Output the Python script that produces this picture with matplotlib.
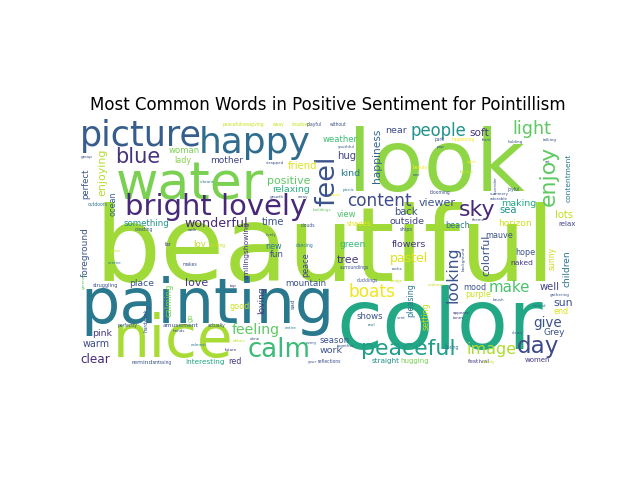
import matplotlib
matplotlib.use("Agg")
import matplotlib.pyplot as plt

# --- words and their weight in the cloud (rendered size, px on a 496x248 canvas) ---
words = [
    "beautiful", "painting", "color", "look", "water", "nice", "picture", "happy",
    "bright lovely", "feel", "calm", "day", "peaceful", "sky", "enjoy", "blue",
    "light", "boats", "content", "people", "image", "looking", "make", "feeling",
    "give", "wonderful", "pastel", "clear", "positive", "viewer", "love", "tree",
    "sun", "enjoying", "colorful", "happiness", "soft", "friend", "hug", "time",
    "back", "sea", "lots", "well", "near", "kind", "making", "outside", "work",
    "flowers", "warm", "pink", "relaxing", "place", "mother", "horizon", "green",
    "Grey", "foreground", "loving", "children", "something", "mountain", "woman",
    "weather", "view", "Joy", "fun", "season", "shows", "perfect", "calming",
    "lady", "beach", "mauve", "new", "good", "red", "end", "purple", "mood", "hope",
    "ocean", "peace", "pleasing", "setting", "sunny", "naked", "smilingshowing",
    "contentment", "interesting", "straight", "shades", "relax", "hugging", "women",
    "go", "festival", "reminds", "amusement", "sad",
    "peacefulness", "giving", "away", "shadows", "playful", "without", "strapped",
    "vibrant", "growth", "array", "outdoors", "buildings", "creating", "walk",
    "youthful", "picnic", "word", "clouds", "lively", "grass", "serene", "far",
    "smiling", "makes", "dancing", "struggling", "top", "life", "hardwork",
    "perfectly", "actually", "hands", "calmest", "debris", "future", "done",
    "entire", "every", "together", "missing", "your", "reflections", "ducklings",
    "bridge", "surroundings", "rocks", "sadness", "background", "brush", "appears",
    "tones", "Spring", "clean", "attend", "gathering", "family", "real", "sent",
    "park", "pop", "happening", "front", "holding", "talking", "right", "figures",
    "beauty", "one", "lavender", "art", "blooming", "summery", "adorable", "joyful",
    "theme", "ships", "greenery", "group",
]
weights = [
    104, 62, 84, 85, 52, 58, 35, 36,
    29, 27, 26, 23, 22, 22, 22, 21,
    17.5, 17, 17, 16.5, 16, 15.5, 15, 14,
    13.5, 12.6, 12.5, 12, 11, 11, 11, 11,
    11, 11, 11, 10.6, 10.5, 10, 10, 10,
    10, 10, 10, 10, 9.5, 9.5, 9.5, 9.5, 9.5,
    9.5, 9.6, 9.4, 9.4, 9.3, 9, 9, 9,
    9, 9, 9, 9, 8.7, 8.6, 8.5,
    8.5, 8.5, 8.5, 8.5, 8.5, 8.5, 8.5, 8.4,
    8, 8, 8, 8, 8, 8, 8, 8, 8, 8,
    8, 8, 8, 8, 7.7, 7.5, 7.5,
    7.5, 7.4, 7.3, 7, 7, 7, 7,
    7, 6, 6, 6, 6,
    4.5, 4.5, 4.5, 4.5, 4.5, 4.5, 4,
    4, 4, 4, 4.5, 4, 4.5, 4,
    4, 4, 4, 4.5, 4, 4, 4, 5,
    4.5, 4.5, 4.5, 5, 4, 4, 5,
    4.5, 4.5, 4, 4, 4, 4, 4,
    4, 4, 4, 4.5, 4, 4.5, 4.5,
    4, 4.5, 4, 4, 4, 4, 4,
    4, 4.5, 4, 4, 4, 4, 4, 4,
    4.5, 4, 4.5, 4, 4, 4, 4, 4,
    4.5, 4, 4, 4, 4.5, 4, 4, 4.5,
    4, 5, 4, 4,
]

# --- layout: baseline start of each word on the canvas, rotation, colour ---
xs = [
    14, 0.5, 256, 268, 36, 33, 0, 119,
    45, 254, 168, 437, 281, 379, 475, 35,
    432, 269, 267, 331, 386, 378, 409, 152,
    453, 104, 310, 0, 187, 339, 105, 257,
    473, 25, 409, 300, 389, 208, 257, 182,
    314, 419, 475, 460, 305, 260, 421, 309, 240,
    312, 3, 12, 192, 49, 130, 418, 260,
    463, 8, 184, 490, 44, 205, 89,
    243, 257, 113, 190, 240, 277, 8, 91,
    94, 365, 405, 185, 150, 148, 473, 385, 383, 435,
    35, 228, 333, 349, 475, 430, 169,
    491, 105, 292, 267, 478, 320, 445,
    113, 388, 51, 83, 215,
    143, 171, 193, 212, 227, 250, 186,
    120, 190, 218, 8, 233, 55, 108,
    258, 263, 251, 221, 186, 30, 28, 85,
    130, 103, 216, 13, 150, 66, 68,
    38, 128, 93, 111, 153, 145, 170,
    205, 226, 257, 75, 228, 238, 277,
    310, 260, 312, 348, 385, 413, 373,
    373, 365, 432, 453, 470, 403, 288, 317,
    355, 357, 372, 402, 428, 463, 387, 380,
    333, 333, 417, 465, 350, 410, 410, 427,
    392, 320, 5, 1,
]
ys = [
    162, 205, 231, 73, 81, 239, 28, 35,
    97, 88, 239, 235, 237, 98, 88, 45,
    16, 179, 88, 18, 236, 185, 174, 216,
    209, 109, 144, 245, 66, 88, 168, 145,
    188, 78, 158, 65, 18, 51, 41, 107,
    97, 95, 100, 172, 15, 58, 88, 106, 235,
    129, 229, 218, 74, 168, 45, 108, 129,
    217, 159, 196, 169, 108, 168, 35,
    24, 99, 129, 139, 225, 201, 81, 199,
    45, 110, 120, 131, 191, 246, 196, 179, 172, 137,
    98, 159, 199, 212, 152, 147, 161,
    84, 246, 245, 108, 108, 245, 244,
    204, 245, 246, 209, 191,
    8, 8, 8, 8, 8, 8, 46,
    65, 80, 80, 88, 93, 113, 113,
    30, 73, 78, 109, 118, 134, 146, 128,
    129, 148, 129, 169, 169, 191, 214,
    209, 209, 214, 228, 224, 233, 222,
    211, 226, 229, 246, 245, 245, 164,
    164, 151, 152, 168, 153, 183, 196,
    201, 231, 216, 189, 178, 245, 208, 201,
    23, 30, 23, 23, 25, 23, 45, 55,
    51, 58, 76, 45, 76, 77, 82, 73,
    103, 113, 171, 40,
]
vertical = {
    "feel", "enjoy", "looking", "enjoying", "colorful", "happiness", "foreground",
    "loving", "children", "perfect", "calming", "ocean", "peace", "pleasing",
    "setting", "sunny", "smilingshowing", "contentment", "go", "sad", "hardwork",
    "background", "lavender", "greenery",
}
colors = [
    "#a0da39", "#2a788e", "#22a884", "#8ed645", "#7ad151", "#a8db34", "#365d8d", "#2f6c8e",
    "#482878", "#3b528b", "#3bbb75", "#3e4a89", "#1f9e89", "#482878", "#5ec962", "#46337e",
    "#5ec962", "#f1e51d", "#3e4c8a", "#21918c", "#addc30", "#3b528b", "#4ac16d", "#5ec962",
    "#3b528b", "#482878", "#dfe318", "#482878", "#5ec962", "#3b528b", "#443983", "#443983",
    "#3b528b", "#b5de2b", "#3b528b", "#33638d", "#46337e", "#dde318", "#414487", "#3b528b",
    "#3b528b", "#21918c", "#c2df23", "#414487", "#3e4a89", "#2a788e", "#22a884", "#414487", "#3b528b",
    "#443983", "#3e4a89", "#443983", "#29af7f", "#3b528b", "#414487", "#d0e11c", "#35b779",
    "#3b528b", "#3b528b", "#443983", "#2c728e", "#21918c", "#3b528b", "#7ad151",
    "#3dbc74", "#4ac16d", "#bddf26", "#3b528b", "#3b528b", "#3b528b", "#3b528b", "#7ad151",
    "#86d549", "#2a788e", "#3b528b", "#2a788e", "#c8e020", "#443983", "#dde318", "#c8e020", "#3b528b", "#3b528b",
    "#365c8d", "#414487", "#2a788e", "#c8e020", "#c8e020", "#443983", "#443983",
    "#2a788e", "#21a585", "#21918c", "#e2e418", "#414487", "#7ad151", "#443983",
    "#7ad151", "#443983", "#3b528b", "#3b528b", "#3b528b",
    "#c8e020", "#c8e020", "#c8e020", "#c8e020", "#3b528b", "#3b528b", "#3b528b",
    "#2a788e", "#3b528b", "#3b528b", "#2a788e", "#5ec962", "#3b528b", "#3b528b",
    "#3b528b", "#2a788e", "#fde725", "#3b528b", "#3b528b", "#c8e020", "#2a788e", "#443983",
    "#c8e020", "#3b528b", "#2a788e", "#3b528b", "#443983", "#3b528b", "#3b528b",
    "#3b528b", "#3b528b", "#3b528b", "#2a788e", "#c8e020", "#443983", "#3b528b",
    "#2a788e", "#3b528b", "#3b528b", "#3b528b", "#3b528b", "#3b528b", "#3b528b",
    "#c8e020", "#3b528b", "#3b528b", "#c8e020", "#3b528b", "#3b528b", "#443983",
    "#443983", "#2a788e", "#3b528b", "#2a788e", "#3b528b", "#c8e020", "#2a788e", "#3b528b",
    "#3b528b", "#3b528b", "#fde725", "#3b528b", "#3b528b", "#3b528b", "#fde725", "#c8e020",
    "#fde725", "#3b528b", "#3b528b", "#3b528b", "#3b528b", "#3b528b", "#3b528b", "#3b528b",
    "#3b528b", "#3b528b", "#5ec962", "#3b528b",
]

CANVAS_W, CANVAS_H = 496, 248
PX_TO_PT = 72 / 100  # figure dpi is 100

fig = plt.figure(figsize=(6.4, 4.8), dpi=100)
ax = fig.add_subplot(111)
ax.set_xlim(0, CANVAS_W)
ax.set_ylim(CANVAS_H, 0)
ax.set_aspect("equal")
ax.axis("off")

for w, s, x, y, c in zip(words, weights, xs, ys, colors):
    rot = 90 if w in vertical else 0
    ax.text(x, y, w, fontsize=s * PX_TO_PT, color=c, rotation=rot,
            rotation_mode="anchor", ha="left", va="baseline")

ax.set_title("Most Common Words in Positive Sentiment for Pointillism")

fig.savefig("out.png", dpi=100)
